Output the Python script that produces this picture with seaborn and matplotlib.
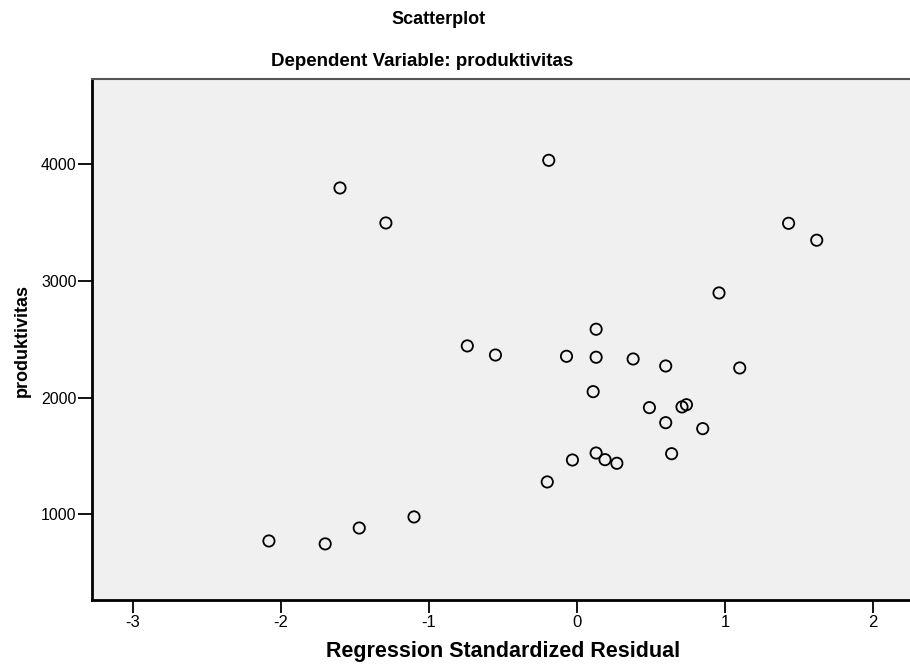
import matplotlib
matplotlib.use("Agg")
import matplotlib.pyplot as plt
import seaborn as sns
import pandas as pd

std_residual = [-0.19, -1.60, -1.29, 1.43, 1.62, 0.96, 0.13, -0.74, -0.55, -0.07,
                0.13, 0.38, 0.60, 1.10, 0.11, 0.49, 0.71, 0.74, 0.60, 0.85,
                0.13, -0.03, 0.19, 0.27, 0.64, -0.20, -1.10, -1.47, -2.08, -1.70]
produktivitas = [4034, 3797, 3497, 3494, 3349, 2897, 2586, 2443, 2365, 2354,
                 2346, 2331, 2271, 2254, 2051, 1914, 1920, 1939, 1785, 1734,
                 1525, 1465, 1468, 1437, 1519, 1277, 977, 882, 771, 746]
x_ticks = [-3, -2, -1, 0, 1, 2]
y_ticks = [1000, 2000, 3000, 4000]

data = pd.DataFrame({"resid": std_residual, "produktivitas": produktivitas})

sns.set_style("white")
plt.rcParams["font.family"] = ["Liberation Sans", "DejaVu Sans"]
plt.rcParams["text.color"] = "black"
plt.rcParams["xtick.color"] = "black"
plt.rcParams["ytick.color"] = "black"

fig = plt.figure(figsize=(9.1, 6.64), dpi=100)
ax = fig.add_axes([92 / 910, 64 / 664, 818 / 910, 521 / 664])
ax.set_facecolor("#f0f0f0")

sns.scatterplot(data=data, x="resid", y="produktivitas", ax=ax, marker="o",
                s=66, facecolor="none", edgecolor="black", linewidth=1.3)

ax.set_xlim(-3.275, 2.25)
ax.set_ylim(265, 4731)
ax.set_xticks(x_ticks)
ax.set_yticks(y_ticks)
ax.set_xticklabels([str(v) for v in x_ticks], fontsize=12)
ax.set_yticklabels([str(v) for v in y_ticks], fontsize=11.5)
ax.tick_params(axis="x", bottom=True, direction="out", length=9, width=1.3,
               pad=2, color="black", labelcolor="black")
ax.tick_params(axis="y", left=True, direction="out", length=10, width=1.3,
               pad=1, color="black", labelcolor="black")

for side in ["left", "bottom"]:
    ax.spines[side].set_color("black")
    ax.spines[side].set_linewidth(2)
ax.spines["top"].set_color("#555555")
ax.spines["top"].set_linewidth(1.5)
ax.spines["right"].set_visible(False)

ax.set_xlabel("")
ax.set_ylabel("")
fig.text(503 / 910, 1 - 651 / 664, "Regression Standardized Residual",
         ha="center", va="center", fontsize=15.5, fontweight="bold")
fig.text(22 / 910, 1 - 341 / 664, "produktivitas", ha="center", va="center",
         rotation=90, fontsize=13, fontweight="bold")
fig.text(439 / 910, 1 - 20 / 664, "Scatterplot", ha="center", va="center",
         fontsize=13, fontweight="bold")
fig.text(422 / 910, 1 - 62 / 664, "Dependent Variable: produktivitas",
         ha="center", va="center", fontsize=13.5, fontweight="bold")

fig.savefig("out.png", dpi=100, facecolor="white")
